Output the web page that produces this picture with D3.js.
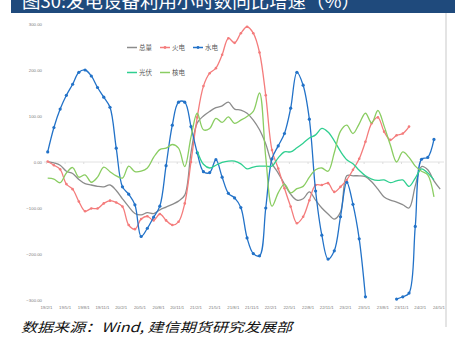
<!DOCTYPE html>
<html>
<head>
<meta charset="utf-8">
<script src="https://cdn.jsdelivr.net/npm/d3@7"></script>
<style>
  body { margin: 0; background: #fff; }
  svg { display: block; }
</style>
</head>
<body>
<div id="chart"></div>
<script>
// tick labels, every 3rd month from 2019-02 to 2024-05 (64 months)
const tickLabels = ["19/2/1","19/5/1","19/8/1","19/11/1","20/2/1","20/5/1","20/8/1","20/11/1",
  "21/2/1","21/5/1","21/8/1","21/11/1","22/2/1","22/5/1","22/8/1","22/11/1",
  "23/2/1","23/5/1","23/8/1","23/11/1","24/2/1","24/5/1"];
const months = d3.timeMonth.range(new Date(2019, 1, 1), new Date(2024, 5, 1));
const yTicks = [300, 200, 100, 0, -100, -200, -300];

const total = [1,-2,-7,-20,-25,-38,-47,-50,-53,-54,-50,-62,-80,-97,-112,-115,-110,-112,-104,-98,
  -92,-85,-72,20,85,100,110,118,122,130,115,113,106,91,70,39,-3,-24,-48,-70,
  -83,-80,-65,-83,-100,-113,-124,-109,-30,-30,-30,-32,-43,-59,-76,-83,-87,-93,-100,-52,
  -10,-17,-41,-59];
const thermal = [1,-7,-16,-48,-59,-86,-107,-101,-101,-90,-84,-88,-97,-137,-146,-124,-118,-127,-113,-127,
  -137,-130,-90,0,97,165,193,204,233,269,259,280,294,280,238,145,26,-14,-57,-97,
  -133,-119,-83,-50,-50,-46,-65,-54,-39,-17,7,44,84,97,66,48,58,62,77,null,
  null,null,null,null];
const hydro = [22,75,115,145,169,195,200,187,162,141,119,30,-54,-70,-93,-162,-144,-120,-96,-8,
  80,130,130,77,20,-21,-23,5,-33,-68,-78,-99,-165,-199,-204,-100,7,35,62,117,
  195,167,93,-63,-159,-211,-193,-119,-44,-92,-167,-293,null,null,null,null,-298,-293,-285,-140,
  6,10,49,null];
const solar = [null,null,null,null,null,null,null,null,null,null,null,null,null,null,null,null,null,null,null,null,
  null,null,null,null,24,-5,-13,-7,-1,2,2,-4,-15,-11,-9,-9,-9,9,22,22,
  31,41,52,59,73,65,46,23,5,-4,-18,-30,-37,-40,-39,-45,-41,-39,-53,-35,
  -15,-24,-39,null];
const nuclear = [-35,-37,-45,-24,-12,-33,-28,-44,-33,-11,-21,-30,-35,-9,-21,-20,-13,10,27,30,
  38,30,-10,54,106,70,73,95,86,98,84,91,99,110,150,10,-96,-67,-48,-67,
  -58,-53,-33,-17,-13,-20,20,67,80,62,83,106,85,112,78,37,0,22,10,-9,
  -20,-28,-76,null];

const series = [
  { name: "总量", values: total,   color: "#8c8c8c", dots: false },
  { name: "火电", values: thermal, color: "#f47c7c", dots: true, r: 1.3 },
  { name: "水电", values: hydro,   color: "#2272c8", dots: true, r: 1.6 },
  { name: "光伏", values: solar,   color: "#2fcf90", dots: false },
  { name: "核电", values: nuclear, color: "#8acd62", dots: false }
];

const W = 460, H = 345;
const svg = d3.select("#chart").append("svg")
  .attr("width", W)
  .attr("height", H)
  .style("font-family", "'Noto Sans CJK SC', 'Noto Sans', sans-serif");

const x = d3.scaleLinear().domain([0, months.length - 1]).range([47.7, 440.2]);
const y = d3.scaleLinear().domain([-300, 300]).range([300, 24]);

// title bar (cut at the top of the picture)
svg.append("rect")
  .attr("x", 11).attr("y", -6)
  .attr("width", 444).attr("height", 19)
  .attr("fill", "#1f4a7c");
svg.append("text")
  .attr("x", 22).attr("y", 7.5)
  .attr("font-size", 18)
  .attr("fill", "#fff")
  .attr("textLength", 338)
  .attr("lengthAdjust", "spacingAndGlyphs")
  .text("图30:发电设备利用小时数同比增速（%）");

// right border
svg.append("line")
  .attr("x1", 446).attr("x2", 446)
  .attr("y1", 13).attr("y2", 327)
  .attr("stroke", "#c9c9c9");

// zero line with ticks
svg.append("line")
  .attr("x1", 44).attr("x2", 444)
  .attr("y1", y(0)).attr("y2", y(0))
  .attr("stroke", "#e2e2e2");
const tickIdx = d3.range(0, months.length, 3);
const zeroAxis = svg.append("g")
  .attr("transform", `translate(-1.8,${y(0)})`)
  .call(d3.axisBottom(x).tickValues(tickIdx).tickSize(2).tickFormat(""));
zeroAxis.select(".domain").remove();
zeroAxis.selectAll(".tick line").attr("stroke", "#dddddd");

// x labels
const xAxis = svg.append("g")
  .attr("transform", `translate(-1.8,303)`)
  .call(d3.axisBottom(x).tickValues(tickIdx).tickSize(0).tickPadding(3)
    .tickFormat((d, i) => tickLabels[i]));
xAxis.select(".domain").remove();
xAxis.selectAll("text")
  .attr("font-size", 4.3)
  .attr("fill", "#7a7a7a")
  .attr("font-family", "'Liberation Sans', sans-serif");

// y labels
const yAxis = svg.append("g")
  .attr("transform", "translate(42,0)")
  .call(d3.axisLeft(y).tickValues(yTicks).tickSize(0).tickPadding(0).tickFormat(d3.format(".2f")));
yAxis.select(".domain").remove();
yAxis.selectAll("text")
  .attr("font-size", 4.3)
  .attr("fill", "#7a7a7a")
  .attr("font-family", "'Liberation Sans', sans-serif");

// lines
const line = d3.line()
  .defined(d => d.v != null)
  .x(d => x(d.i))
  .y(d => y(d.v))
  .curve(d3.curveCatmullRom.alpha(0.5));

series.forEach(s => {
  const pts = s.values.map((v, i) => ({ i, v }));
  svg.append("path")
    .datum(pts)
    .attr("fill", "none")
    .attr("stroke", s.color)
    .attr("stroke-width", 1.3)
    .attr("d", line);
  if (s.dots) {
    svg.append("g").selectAll("circle")
      .data(pts.filter(d => d.v != null))
      .join("circle")
      .attr("cx", d => x(d.i))
      .attr("cy", d => y(d.v))
      .attr("r", s.r)
      .attr("fill", s.color);
  }
});

// legend
const legendPos = [[127, 47.5], [160, 47.5], [193, 47.5], [127, 72.5], [160, 72.5]];
series.forEach((s, k) => {
  const [lx, ly] = legendPos[k];
  const g = svg.append("g").attr("transform", `translate(${lx},${ly})`);
  g.append("line").attr("x1", 0).attr("x2", 10).attr("y1", 0).attr("y2", 0)
    .attr("stroke", s.color).attr("stroke-width", 1.5);
  if (s.dots) g.append("circle").attr("cx", 5).attr("cy", 0).attr("r", 1.4).attr("fill", s.color);
  g.append("text").attr("x", 12).attr("y", 2.2)
    .attr("font-size", 6.5).attr("fill", "#595959").text(s.name);
});

// source note
svg.append("text")
  .attr("x", 21).attr("y", 332)
  .attr("font-size", 13)
  .attr("font-style", "italic")
  .attr("fill", "#111")
  .attr("textLength", 271)
  .attr("lengthAdjust", "spacingAndGlyphs")
  .text("数据来源：Wind, 建信期货研究发展部");
</script>
</body>
</html>
